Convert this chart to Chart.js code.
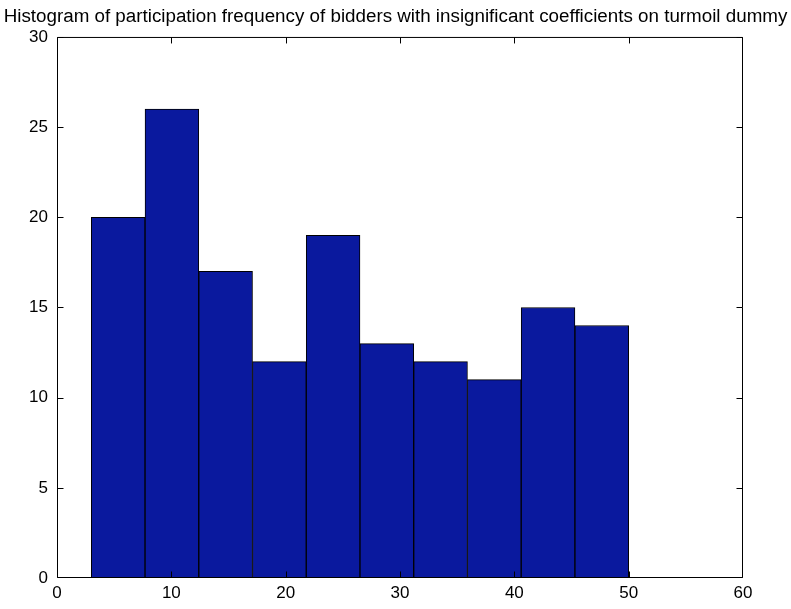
<!DOCTYPE html>
<html>
<head>
<meta charset="utf-8">
<script src="https://cdn.jsdelivr.net/npm/chart.js@4"></script>
<style>
    html, body { margin: 0; padding: 0; background: #fff; }
    #wrap { width: 791px; height: 609px; }
</style>
</head>
<body>
<div id="wrap"><canvas id="histChart"></canvas></div>
<script>
// Histogram data (bin centres and counts)
const binCenters = [5.35, 10.05, 14.75, 19.45, 24.15, 28.85, 33.55, 38.25, 42.95, 47.65];
const counts = [20, 26, 17, 12, 19, 13, 12, 11, 15, 14];
const xTicks = [0, 10, 20, 30, 40, 50, 60];
const yTicks = [0, 5, 10, 15, 20, 25, 30];

const titleText = 'Histogram of participation frequency of bidders with insignificant coefficients on turmoil dummy';
const FONT = 'Liberation Sans, Arial, Helvetica, sans-serif';

// Draw the MATLAB-like box with inward tick marks on all four sides
const boxTicks = {
    id: 'boxTicks',
    afterDatasetsDraw(chart) {
        const { ctx, chartArea: a, scales } = chart;
        const len = 6;
        const l = a.left + 0.5, r = a.right - 0.5, t = a.top + 0.5, b = a.bottom - 0.5;
        ctx.save();
        ctx.strokeStyle = '#000';
        ctx.lineWidth = 1;
        ctx.beginPath();
        ctx.rect(l, t, r - l, b - t);
        scales.x.ticks.forEach(tk => {
            let px = Math.round(scales.x.getPixelForValue(tk.value)) + 0.5;
            px = Math.min(Math.max(px, l), r);
            ctx.moveTo(px, b);
            ctx.lineTo(px, b - len);
            ctx.moveTo(px, t);
            ctx.lineTo(px, t + len);
        });
        scales.y.ticks.forEach(tk => {
            let py = Math.round(scales.y.getPixelForValue(tk.value)) + 0.5;
            py = Math.min(Math.max(py, t), b);
            ctx.moveTo(l, py);
            ctx.lineTo(l + len, py);
            ctx.moveTo(r, py);
            ctx.lineTo(r - len, py);
        });
        ctx.stroke();
        ctx.restore();
    }
};

const ctx = document.getElementById('histChart').getContext('2d');
const histChart = new Chart(ctx, {
    type: 'bar',
    data: {
        datasets: [{
            data: binCenters.map((x, i) => ({ x: x, y: counts[i] })),
            backgroundColor: '#0a199e',
            borderColor: '#000',
            borderWidth: 1,
            barPercentage: 1,
            categoryPercentage: 1
        }]
    },
    options: {
        responsive: true,
        maintainAspectRatio: false,
        animation: false,
        layout: {
            padding: 0
        },
        plugins: {
            legend: { display: false },
            tooltip: { enabled: false },
            title: {
                display: true,
                text: titleText,
                color: '#000',
                font: { family: FONT, size: 18.8, weight: 'normal' },
                padding: { top: 5.5, bottom: 8.9 }
            }
        },
        scales: {
            x: {
                type: 'linear',
                min: 0,
                max: 60,
                offset: false,
                grid: { display: false, drawTicks: false, offset: false },
                border: { display: false },
                afterBuildTicks(scale) {
                    scale.ticks = xTicks.map(v => ({ value: v }));
                },
                afterFit(scale) { scale.height = 31; },
                ticks: {
                    color: '#000',
                    padding: 5,
                    maxRotation: 0,
                    font: { family: FONT, size: 17 }
                }
            },
            y: {
                min: 0,
                max: 30,
                grid: { display: false, drawTicks: false },
                border: { display: false },
                afterBuildTicks(scale) {
                    scale.ticks = yTicks.map(v => ({ value: v }));
                },
                afterFit(scale) { scale.width = 57; },
                ticks: {
                    color: '#000',
                    padding: 9,
                    font: { family: FONT, size: 17 }
                }
            },
            // empty right-hand axis only reserves the right margin
            yRight: {
                position: 'right',
                min: 0,
                max: 30,
                grid: { display: false, drawTicks: false },
                border: { display: false },
                ticks: { display: false },
                afterFit(scale) { scale.width = 48; }
            }
        }
    },
    plugins: [boxTicks]
});
</script>
</body>
</html>
